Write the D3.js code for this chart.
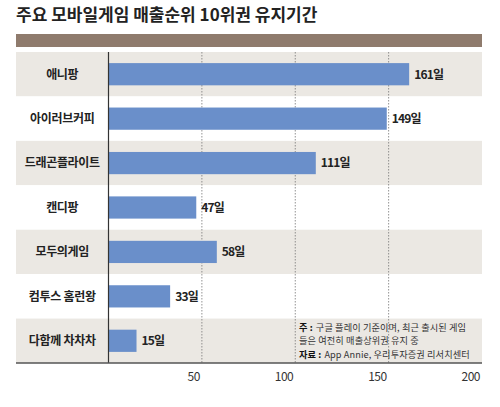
<!DOCTYPE html>
<html>
<head>
<meta charset="utf-8">
<script src="https://cdn.jsdelivr.net/npm/d3@7"></script>
<style>
  body { margin: 0; background: #fff; }
  svg { display: block; font-family: "Noto Sans CJK KR", "Noto Sans", sans-serif; }
</style>
</head>
<body>
<div id="chart"></div>
<script>
const title = '주요 모바일게임 매출순위 10위권 유지기간';
const games = ['애니팡', '아이러브커피', '드래곤플라이트', '캔디팡', '모두의게임', '컴투스 홈런왕', '다함께 차차차'];
const days = [161, 149, 111, 47, 58, 33, 15];
const ticks = [50, 100, 150, 200];
const notes = [
  { bold: '주 :', text: '구글 플레이 기준이며, 최근 출시된 게임' },
  { bold: '', text: '들은 여전히 매출상위권 유지 중' },
  { bold: '자료 :', text: 'App Annie, 우리투자증권 리서치센터' }
];

const width = 500, height = 407;
const plot = { left: 16, right: 482, axisX: 108.5, top: 52, bottom: 363 };

const svg = d3.select('#chart').append('svg')
  .attr('width', width).attr('height', height);

svg.append('text')
  .attr('x', 16).attr('y', 21)
  .attr('font-size', 17).attr('font-weight', 700)
  .attr('fill', '#222')
  .text(title);

svg.append('rect')
  .attr('x', plot.left).attr('y', 34)
  .attr('width', plot.right - plot.left).attr('height', 13)
  .attr('fill', '#8f7b6d');

const x = d3.scaleLinear().domain([0, 200]).range([plot.axisX, plot.right]);
const y = d3.scaleBand().domain(games).range([plot.top, plot.bottom]);

// alternating row bands
svg.append('g').selectAll('rect')
  .data(games)
  .join('rect')
  .attr('x', plot.left).attr('y', (d) => y(d))
  .attr('width', plot.right - plot.left).attr('height', y.bandwidth())
  .attr('fill', (d, i) => i % 2 === 0 ? '#ebe8e3' : '#fff');

// dotted gridlines
svg.append('g').selectAll('line')
  .data(ticks.slice(0, 3))
  .join('line')
  .attr('x1', (d) => x(d)).attr('x2', (d) => x(d))
  .attr('y1', plot.top).attr('y2', plot.bottom)
  .attr('stroke', '#777').attr('stroke-width', 0.8)
  .attr('stroke-dasharray', '1.5,1.5');

// bars
svg.append('g').selectAll('rect')
  .data(games)
  .join('rect')
  .attr('x', plot.axisX)
  .attr('y', (d) => y(d) + y.bandwidth() * 0.25)
  .attr('width', (d, i) => x(days[i]) - plot.axisX)
  .attr('height', y.bandwidth() * 0.5)
  .attr('fill', '#6a8fca');

// value labels
svg.append('g').selectAll('text')
  .data(games)
  .join('text')
  .attr('x', (d, i) => x(days[i]) + 5)
  .attr('y', (d) => y(d) + y.bandwidth() / 2)
  .attr('dy', '0.36em')
  .attr('font-size', 12).attr('font-weight', 700)
  .attr('letter-spacing', -0.8)
  .attr('fill', '#222')
  .text((d, i) => days[i] + '일');

// category labels
svg.append('g').selectAll('text')
  .data(games)
  .join('text')
  .attr('x', (plot.left + plot.axisX) / 2)
  .attr('y', (d) => y(d) + y.bandwidth() / 2)
  .attr('dy', '0.36em')
  .attr('text-anchor', 'middle')
  .attr('font-size', 12).attr('font-weight', 700)
  .attr('letter-spacing', -0.3)
  .attr('fill', '#222')
  .text((d) => d);

// axis lines
svg.append('line')
  .attr('x1', plot.axisX).attr('x2', plot.axisX)
  .attr('y1', plot.top).attr('y2', plot.bottom)
  .attr('stroke', '#333').attr('stroke-width', 1.2);

svg.append('line')
  .attr('x1', plot.left).attr('x2', plot.right)
  .attr('y1', plot.bottom).attr('y2', plot.bottom)
  .attr('stroke', '#555').attr('stroke-width', 1.5);

// tick labels
svg.append('g').selectAll('text')
  .data(ticks)
  .join('text')
  .attr('x', (d) => x(d) - 2)
  .attr('y', 381)
  .attr('text-anchor', 'end')
  .attr('font-size', 12)
  .attr('letter-spacing', -0.5)
  .attr('fill', '#333')
  .text((d) => d);

// notes: bold lead-in and body as separate texts
const notesG = svg.append('g')
  .attr('font-size', 9.2).attr('letter-spacing', 0.1);
notes.forEach((n, i) => {
  const ny = 331 + i * 13.4;
  let nx = 299;
  if (n.bold) {
    const b = notesG.append('text')
      .attr('x', nx).attr('y', ny)
      .attr('font-weight', 700).attr('fill', '#111')
      .text(n.bold);
    nx += b.node().getComputedTextLength() + 3;
  }
  notesG.append('text')
    .attr('x', nx).attr('y', ny)
    .attr('fill', '#333')
    .text(n.text);
});
</script>
</body>
</html>
